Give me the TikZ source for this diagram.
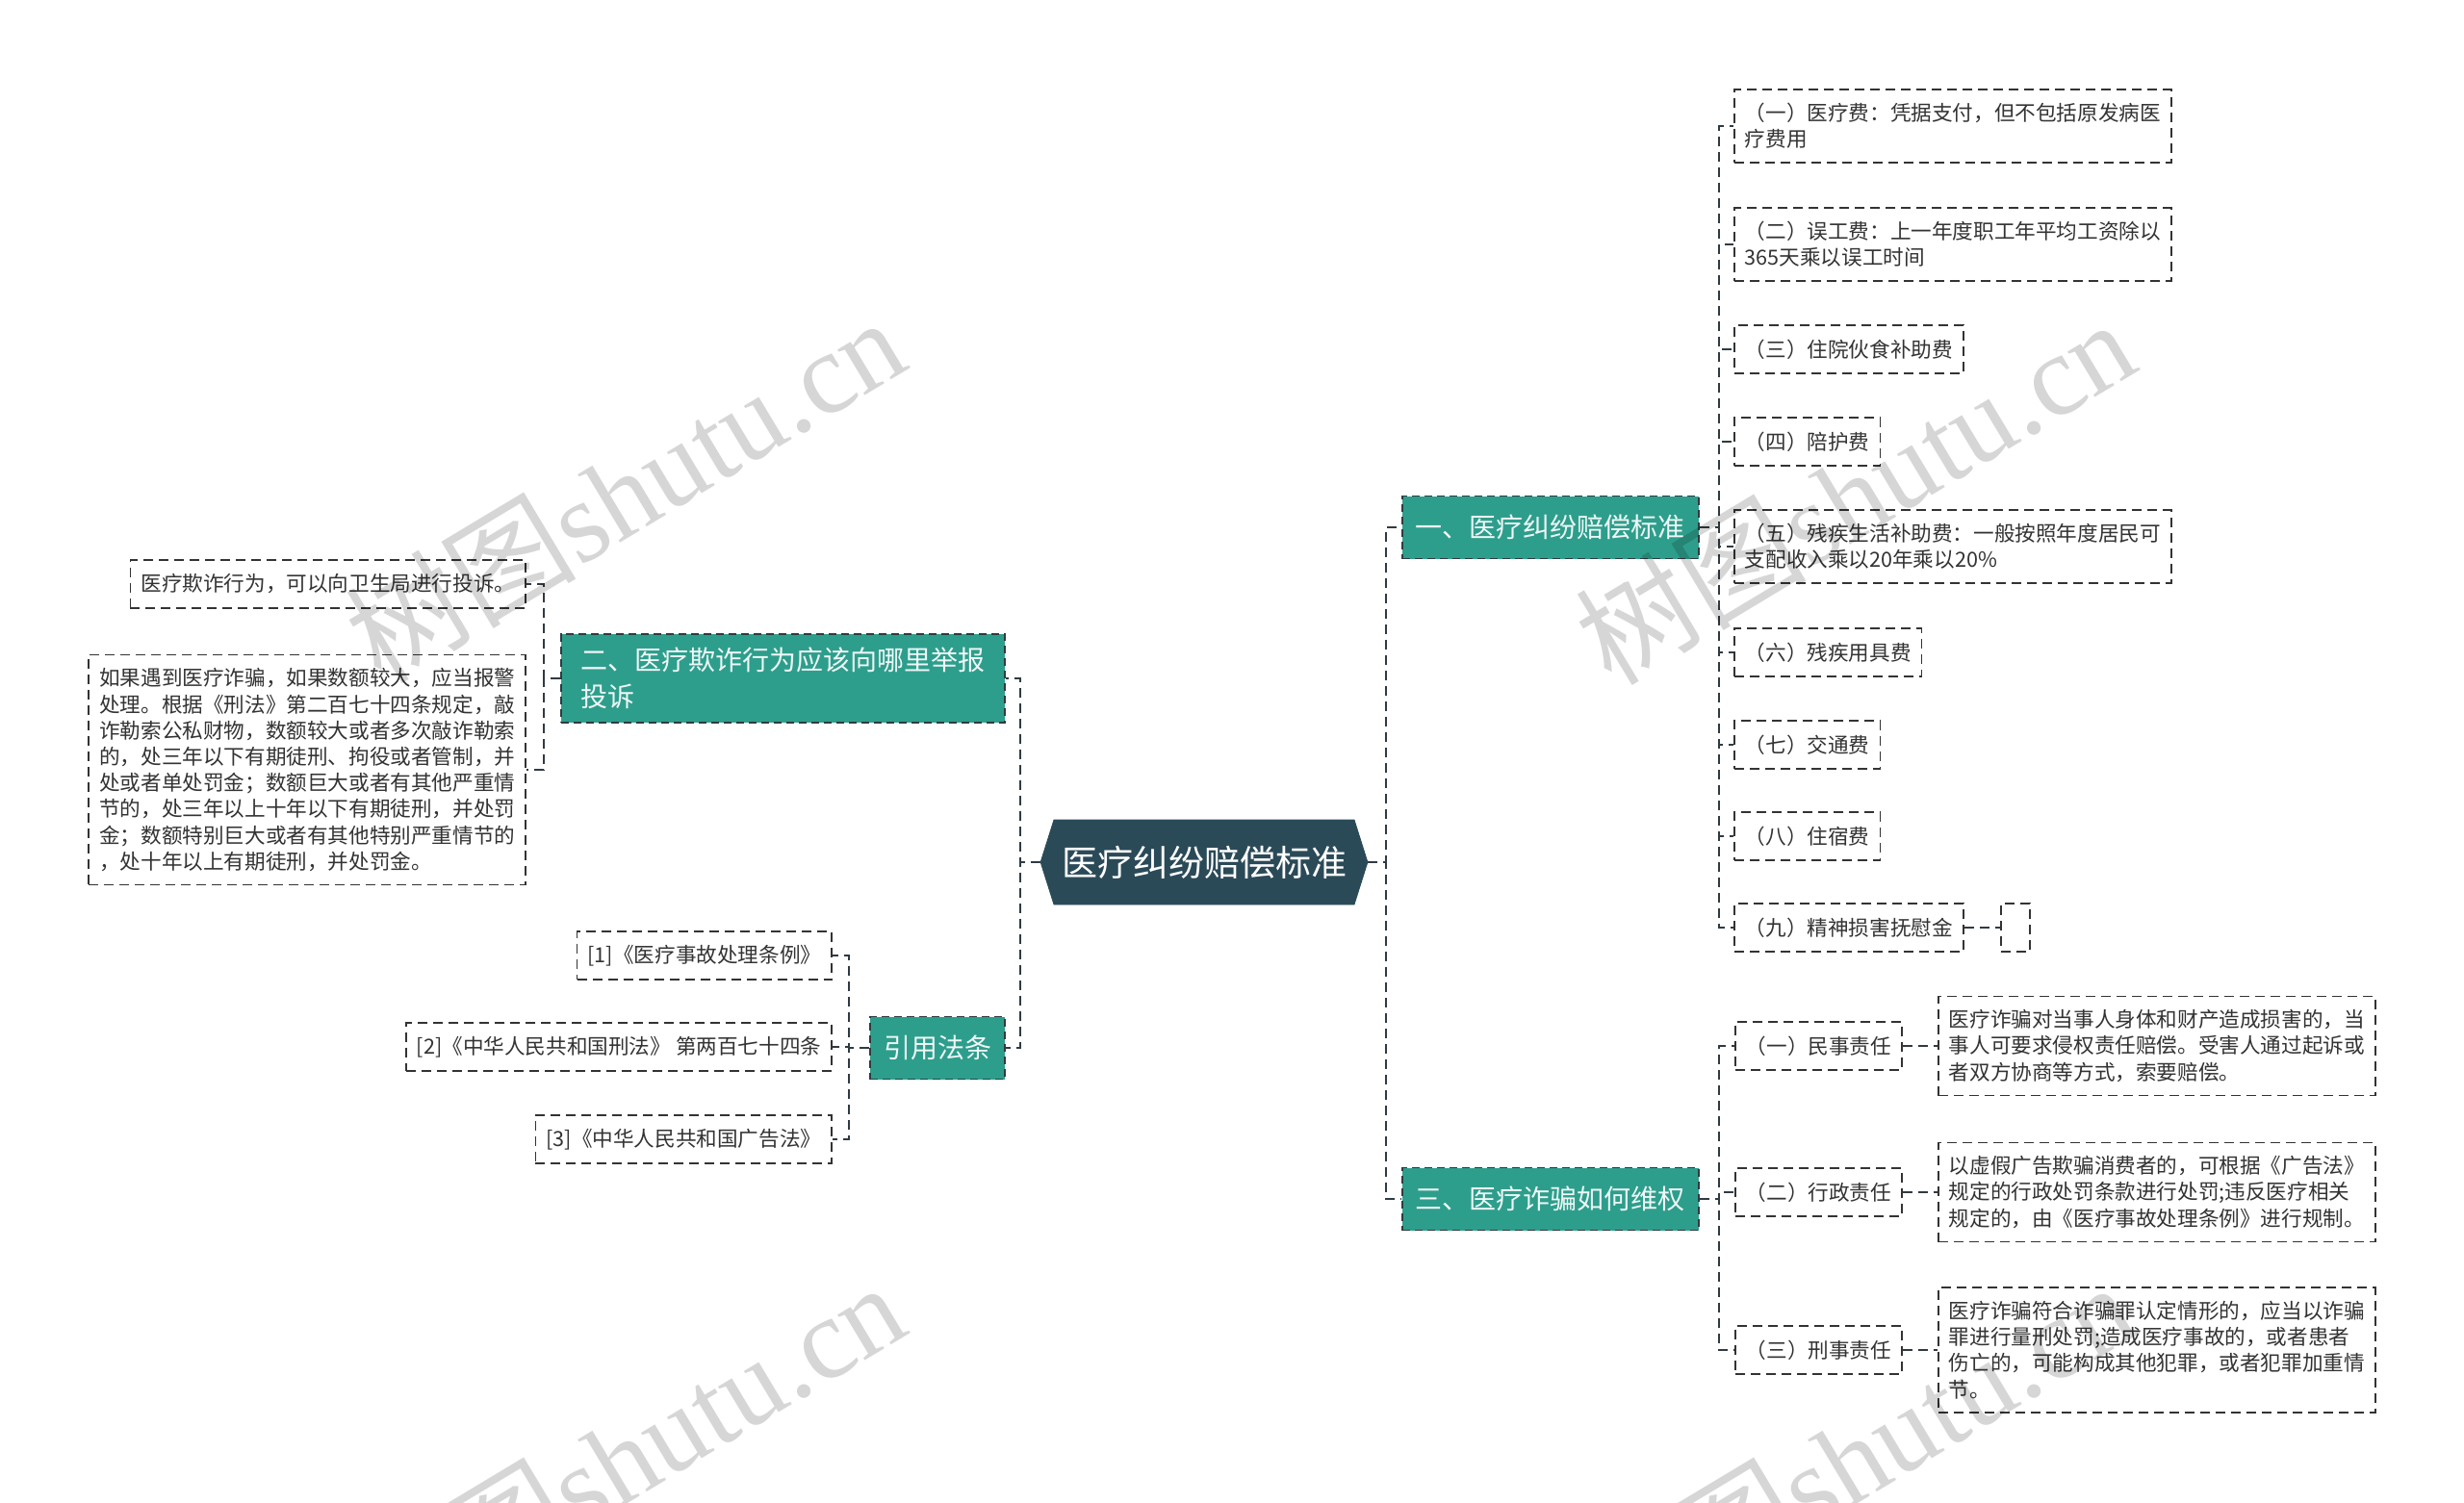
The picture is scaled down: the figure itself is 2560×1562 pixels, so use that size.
\documentclass[tikz,border=0pt]{standalone}
\usepackage{fontspec}
\setmainfont{Noto Sans CJK SC}
\newfontfamily\wmfont{Liberation Serif}
\usetikzlibrary{shapes.symbols}

\definecolor{rootfill}{HTML}{2B4A58}
\definecolor{branchfill}{HTML}{2E9E8C}
\definecolor{linkcol}{HTML}{2F3B42}
\definecolor{leaftext}{HTML}{333333}

\begin{document}
\begin{tikzpicture}[
    x=0.5pt, y=-0.5pt,
    root/.style={shape=signal, signal to=west and east, signal pointer angle=145,
        fill=rootfill, draw=rootfill, text=white, font=\fontsize{18.5pt}{22pt}\selectfont,
        minimum width=166pt, minimum height=44pt, inner xsep=4pt},
    branch/.style={fill=branchfill, draw=linkcol, line width=0.9pt, dash pattern=on 4pt off 2.5pt,
        text=white!92!branchfill, font=\fontsize{14pt}{19pt}\selectfont,
        inner xsep=7pt, inner ysep=7pt, minimum height=32.5pt, align=left},
    leaf/.style={draw=leaftext, line width=0.8pt, dash pattern=on 5pt off 3pt, fill=white,
        text=leaftext, font=\fontsize{10.8pt}{13.6pt}\selectfont,
        inner xsep=5.5pt, inner ysep=7pt, minimum height=25pt, align=left},
    link/.style={draw=linkcol, line width=0.9pt, dash pattern=on 5pt off 3pt},
    wm/.style={text=black, text opacity=0.16, rotate=31, font=\fontsize{60pt}{64pt}\selectfont}
]
\fill[white] (0,0) rectangle (2560,1562);
\useasboundingbox (0,0) rectangle (2560,1562);

% centre
\node[root] (root) at (1251,896) {医疗纠纷赔偿标准};

% main branches
\node[branch, anchor=west] (b1) at (1456,548) {一、医疗纠纷赔偿标准};
\node[branch, anchor=west] (b3) at (1456,1246) {三、医疗诈骗如何维权};
\node[branch, anchor=east, minimum width=230.5pt] (b2) at (1045,705) {二、医疗欺诈行为应该向哪里举报\\投诉};
\node[branch, anchor=east] (b4) at (1045,1089) {引用法条};

% items of b1
\node[leaf, anchor=west] (c1) at (1801,131) {（一）医疗费：凭据支付，但不包括原发病医\\疗费用};
\node[leaf, anchor=west] (c2) at (1801,254) {（二）误工费：上一年度职工年平均工资除以\\365天乘以误工时间};
\node[leaf, anchor=west] (c3) at (1801,363) {（三）住院伙食补助费};
\node[leaf, anchor=west] (c4) at (1801,459) {（四）陪护费};
\node[leaf, anchor=west] (c5) at (1801,568) {（五）残疾生活补助费：一般按照年度居民可\\支配收入乘以20年乘以20\%};
\node[leaf, anchor=west] (c6) at (1801,678) {（六）残疾用具费};
\node[leaf, anchor=west] (c7) at (1801,774) {（七）交通费};
\node[leaf, anchor=west] (c8) at (1801,869) {（八）住宿费};
\node[leaf, anchor=west] (c9) at (1801,964) {（九）精神损害抚慰金};
\node[leaf, anchor=west, minimum width=15pt] (e9) at (2078,964) {};

% items of b3
\node[leaf, anchor=west] (d1) at (1802,1087) {（一）民事责任};
\node[leaf, anchor=west] (d2) at (1802,1239) {（二）行政责任};
\node[leaf, anchor=west] (d3) at (1802,1403) {（三）刑事责任};
\node[leaf, anchor=west] (f1) at (2013,1087) {医疗诈骗对当事人身体和财产造成损害的，当\\事人可要求侵权责任赔偿。受害人通过起诉或\\者双方协商等方式，索要赔偿。};
\node[leaf, anchor=west] (f2) at (2013,1239) {以虚假广告欺骗消费者的，可根据《广告法》\\规定的行政处罚条款进行处罚;违反医疗相关\\规定的，由《医疗事故处理条例》进行规制。};
\node[leaf, anchor=west] (f3) at (2013,1403) {医疗诈骗符合诈骗罪认定情形的，应当以诈骗\\罪进行量刑处罚;造成医疗事故的，或者患者\\伤亡的，可能构成其他犯罪，或者犯罪加重情\\节。};

% items of b2
\node[leaf, anchor=east] (a1) at (547,607) {医疗欺诈行为，可以向卫生局进行投诉。};
\node[leaf, anchor=east] (a2) at (547,800) {如果遇到医疗诈骗，如果数额较大，应当报警\\处理。根据《刑法》第二百七十四条规定，敲\\诈勒索公私财物，数额较大或者多次敲诈勒索\\的，处三年以下有期徒刑、拘役或者管制，并\\处或者单处罚金；数额巨大或者有其他严重情\\节的，处三年以上十年以下有期徒刑，并处罚\\金；数额特别巨大或者有其他特别严重情节的\\，处十年以上有期徒刑，并处罚金。};

% items of b4
\node[leaf, anchor=east] (g1) at (865,993) {[1]《医疗事故处理条例》};
\node[leaf, anchor=east] (g2) at (865,1088) {[2]《中华人民共和国刑法》 第两百七十四条};
\node[leaf, anchor=east] (g3) at (865,1184) {[3]《中华人民共和国广告法》};

% connectors
\foreach \b in {b1,b3}
    \draw[link] (root.east) -- ++(19,0) |- (\b.west);
\foreach \b in {b2,b4}
    \draw[link] (root.west) -- ++(-21,0) |- (\b.east);
\foreach \c in {c1,c2,c3,c4,c5,c6,c7,c8,c9}
    \draw[link] (b1.east) -- ++(20,0) |- (\c.west);
\draw[link] (c9.east) -- (e9.west);
\foreach \d in {d1,d2,d3}
    \draw[link] (b3.east) -- ++(20,0) |- (\d.west);
\draw[link] (d1.east) -- (f1.west);
\draw[link] (d2.east) -- (f2.west);
\draw[link] (d3.east) -- (f3.west);
\foreach \a in {a1,a2}
    \draw[link] (b2.west) -- ++(-17,0) |- (\a.east);
\foreach \g in {g1,g2,g3}
    \draw[link] (b4.west) -- ++(-21,0) |- (\g.east);

% watermarks
\node[wm] (wm1) at (649,508) {树图{\wmfont shutu.cn}};
\node[wm] (wm2) at (1927,510) {树图{\wmfont shutu.cn}};
\node[wm] (wm3) at (649,1511) {树图{\wmfont shutu.cn}};
\node[wm] (wm4) at (1927,1511) {树图{\wmfont shutu.cn}};
\end{tikzpicture}
\end{document}
